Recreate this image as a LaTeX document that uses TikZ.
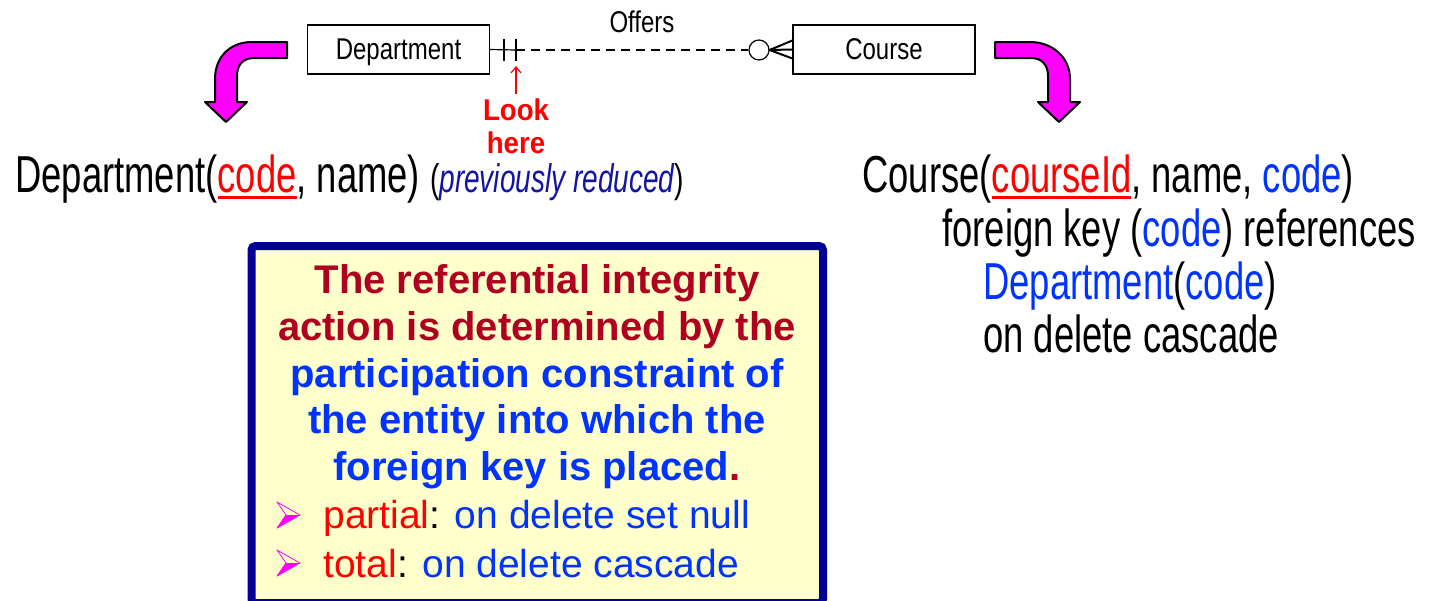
\documentclass[tikz,border=0pt]{standalone}
\usepackage{fontspec}
\setmainfont{Liberation Sans}
\newfontfamily\narrowfont[FakeStretch=0.70]{Liberation Sans}
\newfontfamily\ernarrow[FakeStretch=0.80]{Liberation Sans}
\newfontfamily\lookfont[FakeStretch=0.92]{Liberation Sans}
\usetikzlibrary{arrows.meta}

\definecolor{keyred}{RGB}{255,0,0}
\definecolor{fkblue}{RGB}{0,51,255}
\definecolor{ruledark}{RGB}{176,0,32}
\definecolor{boxnavy}{RGB}{0,0,153}
\definecolor{paleyellow}{RGB}{255,255,204}
\definecolor{notenavy}{RGB}{20,20,160}
\definecolor{arrowpink}{RGB}{255,0,255}

% primary key: red, with a heavy red underline
\newcommand{\pkey}[1]{\textcolor{keyred}{\setbox0=\hbox{#1}\rlap{\rule[-3.5pt]{\wd0}{1.5pt}}\box0}}
\newcommand{\fk}[1]{\textcolor{fkblue}{#1}}

\tikzset{
  entity/.style={draw,line width=0.6pt,minimum width=91pt,minimum height=24.5pt,
    inner sep=0pt,text depth=0pt,font=\ernarrow\fontsize{15}{18}\selectfont},
  reltext/.style={anchor=base west,inner sep=0pt,font=\narrowfont\fontsize{26}{31}\selectfont},
  ruletext/.style={anchor=base,inner sep=0pt,font=\bfseries\fontsize{20}{24}\selectfont},
  itemtext/.style={anchor=base west,inner sep=0pt,font=\fontsize{19.5}{24}\selectfont},
  bentarrow/.style={fill=arrowpink,draw=black,line width=1pt,line join=round},
  pics/pointer/.style={code={
    \draw[arrowpink,line width=0.4pt,line join=round]
      (12,0) -- (-11,-13) -- (-2,0) -- (-11,13) -- cycle;
    \fill[arrowpink] (12,0) -- (-2,0) -- (-11,13) -- cycle;
  }}
}

\begin{document}
\begin{tikzpicture}[x=0.5pt,y=-0.5pt]

      \useasboundingbox (0,0) rectangle (1430,600);

      % E-R fragment
      \node[entity] (dept)   at (398.5,49.5) {Department};
      \node[entity] (course) at (884,49.5)   {Course};
      \node[anchor=base,inner sep=0pt,font=\ernarrow\fontsize{15}{18}\selectfont] (offers) at (642,32) {Offers};

      \coordinate (barA) at (504,50);
      \coordinate (barB) at (516,50);
      \node[circle,draw,line width=0.6pt,minimum size=10pt,inner sep=0pt] (opt) at (759,50) {};

      \begin{scope}[line width=0.6pt]
        \draw (dept.east) -- (barB);
        \draw[dash pattern=on 4.5pt off 3pt] (barB) -- (opt.west);
      \end{scope}

      \begin{scope}[line width=1pt]
        \draw (barA) ++(0,-11) -- ++(0,22);
        \draw (barB) ++(0,-11) -- ++(0,22);
        \draw (opt.east) -- (course.west);
        \draw (opt.east) -- ([yshift=4.5pt]course.west);
        \draw (opt.east) -- ([yshift=-4.5pt]course.west);
      \end{scope}

      % pointer to the mandatory side
      \begin{scope}[every node/.style={anchor=base,inner sep=0pt,text=keyred,
          font=\lookfont\bfseries\fontsize{15}{18}\selectfont}]
        \node (look) at (516,120) {Look};
        \node (here) at (516,153) {here};
      \end{scope}
      \coordinate (lookat) at (516,66);
      \draw[keyred,line width=0.6pt,-{Straight Barb[length=3pt,width=5pt]}]
        ([yshift=2pt]look.north) -- (lookat);

      % bent arrows
      \filldraw[bentarrow] (287,42) -- (252,42) .. controls (230,42) and (215,57) .. (215,79)
        -- (215,102) -- (205,102) -- (226,122) -- (247,102) -- (237,102) -- (237,76)
        .. controls (237,65) and (243,58) .. (254,58) -- (287,58) -- cycle;
      \filldraw[bentarrow] (995,42) -- (1030,42) .. controls (1052,42) and (1070,57) .. (1070,79)
        -- (1070,102) -- (1080,102) -- (1059,122) -- (1038,102) -- (1048,102) -- (1048,76)
        .. controls (1048,65) and (1042,58) .. (1031,58) -- (995,58) -- cycle;

      % relations
      \node[reltext] (deptrel) at (15,192)
        {Department(\pkey{code}, name) {\fontsize{20}{24}\selectfont(\textcolor{notenavy}{\itshape previously reduced})}};

      \node[reltext] (courserel) at (862,192) {Course(\pkey{courseId}, name, \fk{code})};
      \node[reltext] (fkline)    at (942,246) {foreign key (\fk{code}) references};
      \node[reltext] (refline)   at (983,299) {\fk{Department}(\fk{code})};
      \node[reltext] (delline)   at (983,352) {on delete cascade};

      % rule box
      \draw[boxnavy,line width=4pt,fill=paleyellow,rounded corners=2pt]
        (251.5,246) rectangle (823,603);

      \foreach \y/\col/\txt [count=\n] in {
          293/ruledark/{The referential integrity},
          340/ruledark/{action is determined by the},
          387/fkblue/{participation constraint of},
          433/fkblue/{the entity into which the},
          480/fkblue/{foreign key is placed\textcolor{ruledark}{.}}}
        \node[ruletext,text=\col] (rule\n) at (537,\y) {\txt};

      \pic (markA) at (288,515) {pointer};
      \pic (markB) at (288,563) {pointer};
      \node[itemtext] (partial) at (323,528) {\textcolor{keyred}{partial}: \fk{on delete set null}};
      \node[itemtext] (total)   at (323,577) {\textcolor{keyred}{total}: \fk{on delete cascade}};

    \end{tikzpicture}
\end{document}
